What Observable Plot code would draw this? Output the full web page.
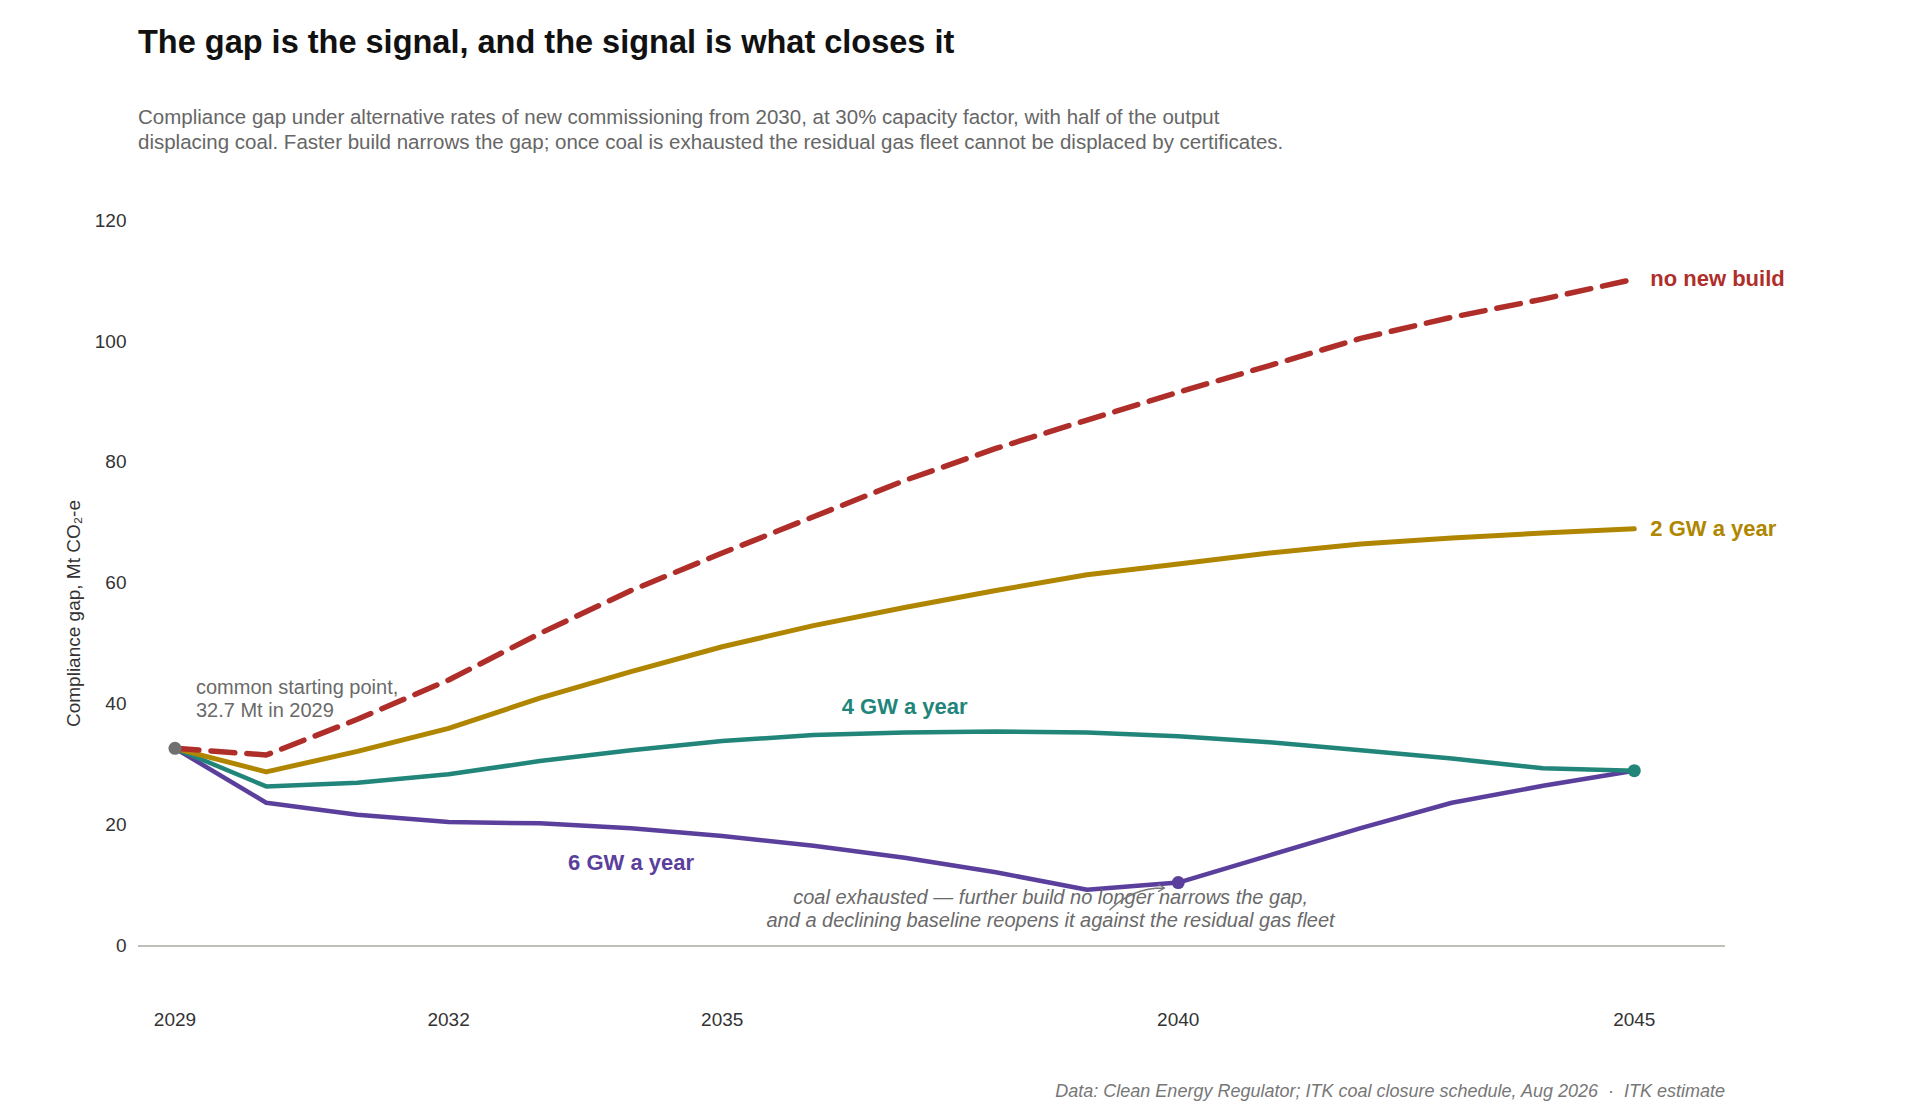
<!DOCTYPE html>
<html><head><meta charset="utf-8">
<script src="https://cdn.jsdelivr.net/npm/d3@7"></script>
<script src="https://cdn.jsdelivr.net/npm/@observablehq/plot@0.6"></script>
<style>
body{margin:0;background:#fff;font-family:"Liberation Sans",Arial,sans-serif;}
#wrap{position:relative;width:1920px;height:1110px;}
#title{position:absolute;left:138px;top:24px;font-size:32.5px;font-weight:bold;color:#111;}
#sub{position:absolute;left:138px;top:104px;font-size:20.5px;line-height:25px;color:#666;width:1500px;}
#chart{position:absolute;left:0;top:190px;}
#cap{position:absolute;right:195px;top:1081px;font-size:18px;font-style:italic;color:#777;}
</style></head><body>
<div id="wrap">
<div id="title">The gap is the signal, and the signal is what closes it</div>
<div id="sub">Compliance gap under alternative rates of new commissioning from 2030, at 30% capacity factor, with half of the output<br>displacing coal. Faster build narrows the gap; once coal is exhausted the residual gas fleet cannot be displaced by certificates.</div>
<div id="chart"></div>
<div id="cap">Data: Clean Energy Regulator; ITK coal closure schedule, Aug 2026 &nbsp;·&nbsp; ITK estimate</div>
</div>
<script>
const years = d3.range(2029, 2046);
const noBuild = [32.7,31.6,37.5,44,51.7,58.8,65,71,77,82.3,87,91.6,96,100.5,104,107,110.3];
const gw2 = [32.7,28.8,32.2,36,41,45.4,49.5,53,56,58.8,61.4,63.2,65,66.5,67.5,68.3,69];
const gw4 = [32.7,26.4,27,28.4,30.6,32.4,33.9,34.9,35.3,35.5,35.3,34.7,33.7,32.4,31,29.4,29];
const gw6 = [32.7,23.7,21.7,20.5,20.3,19.5,18.2,16.6,14.6,12.2,9.3,10.5,15,19.5,23.7,26.5,29];
const yTicks = [0,20,40,60,80,100,120];
const xTicks = [2029,2032,2035,2040,2045];
const seriesNames = ["no new build","2 GW a year","4 GW a year","6 GW a year"];
const colors = ["#b02e2a","#b08600","#21857a","#5b3f9c"];

const rows = s => years.map((y,i)=>({year:y, v:s[i]}));
const endLabels = [
  {x:2045, y:110.3, t:"no new build", c:colors[0]},
  {x:2045, y:69, t:"2 GW a year", c:colors[1]}
];
const midLabels = [
  {x:2037, y:39.5, t:"4 GW a year", c:colors[2]},
  {x:2034, y:13.8, t:"6 GW a year", c:colors[3]}
];
const notes = [
  {x:2029.23, y:41, t:"common starting point,\n32.7 Mt in 2029", a:"start", it:false},
  {x:2038.6, y:6.2, t:"coal exhausted — further build no longer narrows the gap,\nand a declining baseline reopens it against the residual gas fleet", a:"middle", it:true}
];

const chart = Plot.plot({
  width:1920, height:866,
  marginLeft:138, marginRight:195, marginTop:30, marginBottom:50,
  style:{fontFamily:"Liberation Sans, Arial, sans-serif", fontSize:"19px", color:"#333"},
  x:{domain:[2028.6,2046]},
  y:{domain:[-10,120]},
  marks:[
    Plot.axisY({ticks:yTicks, tickSize:0, tickPadding:12, label:"Compliance gap, Mt CO₂-e", labelAnchor:"center", labelArrow:"none", labelOffset:72, fontSize:19}),
    Plot.axisX({ticks:xTicks, tickSize:0, tickPadding:6, tickFormat:d=>String(d), label:null, fontSize:19}),
    Plot.ruleY([0], {stroke:"#aaa9a0", strokeWidth:1.5}),
    Plot.line(rows(gw6), {x:"year", y:"v", stroke:colors[3], strokeWidth:4.5}),
    Plot.line(rows(gw4), {x:"year", y:"v", stroke:colors[2], strokeWidth:4.5}),
    Plot.line(rows(gw2), {x:"year", y:"v", stroke:colors[1], strokeWidth:5}),
    Plot.line(rows(noBuild), {x:"year", y:"v", stroke:colors[0], strokeWidth:5.5, strokeDasharray:"24,12"}),
    Plot.dot([{year:2029, v:32.7}], {x:"year", y:"v", r:6.5, fill:"#707070"}),
    Plot.dot([{year:2040, v:gw6[11]}], {x:"year", y:"v", r:6.5, fill:colors[3]}),
    Plot.dot([{year:2045, v:gw4[16]}], {x:"year", y:"v", r:6.5, fill:colors[2]}),
    Plot.text(endLabels, {x:"x", y:"y", text:"t", fill:"c", dx:16, textAnchor:"start", fontWeight:"bold", fontSize:22}),
    Plot.text(midLabels, {x:"x", y:"y", text:"t", fill:"c", textAnchor:"middle", fontWeight:"bold", fontSize:22}),
    Plot.text([notes[0]], {x:"x", y:"y", text:"t", fill:"#6a6a6a", textAnchor:"start", fontSize:20, lineHeight:1.15}),
    Plot.text([notes[1]], {x:"x", y:"y", text:"t", fill:"#6a6a6a", textAnchor:"middle", fontSize:20, fontStyle:"italic", lineHeight:1.15}),
    Plot.arrow([{x1:2039.25, y1:6.0, x2:2039.85, y2:9.6}], {x1:"x1", y1:"y1", x2:"x2", y2:"y2", stroke:"#777", strokeWidth:1.3, headLength:8, bend:true})
  ]
});
document.getElementById("chart").appendChild(chart);
</script>
</body></html>
